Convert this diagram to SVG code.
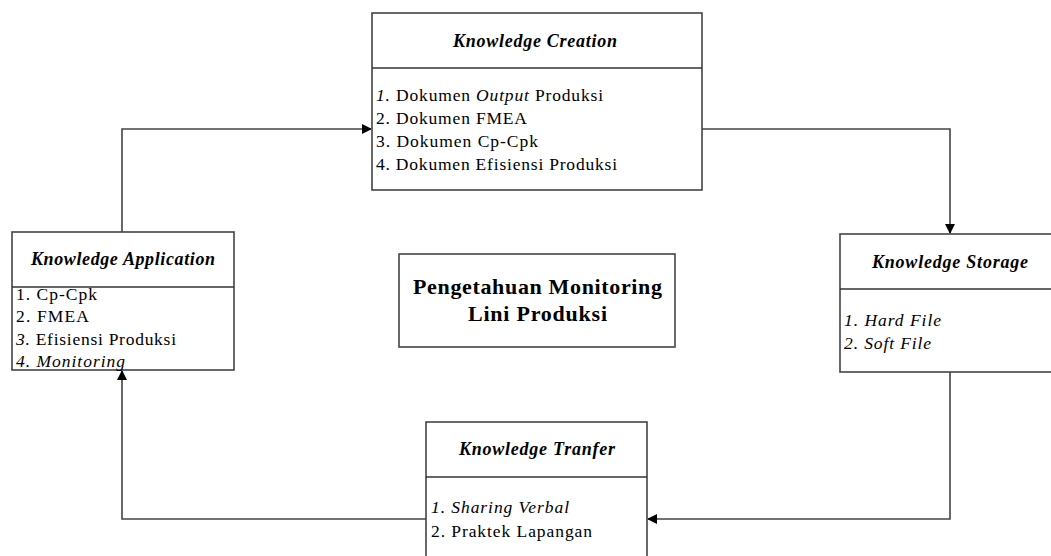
<svg xmlns="http://www.w3.org/2000/svg" width="1051" height="556" viewBox="0 0 1051 556">
<style>
.box{fill:#fff;stroke:#444;stroke-width:1.6}
.div{stroke:#333;stroke-width:1.6}
.conn{fill:none;stroke:#444;stroke-width:1.6}
text{font-family:"Liberation Serif","Times New Roman",serif;fill:#000}
.title{font-size:18px;font-style:italic;font-weight:bold}
.item{font-size:17.5px}
.it{font-style:italic}
.center{font-size:22px;font-weight:bold}
</style>
<defs>
<marker id="arr" markerWidth="10" markerHeight="10" refX="9" refY="5" orient="auto" markerUnits="userSpaceOnUse">
<path d="M0,0 L10,5 L0,10 Z" fill="#000"/>
</marker>
</defs>
<g id="connectors">
<path class="conn" d="M122,232 V129 H371" marker-end="url(#arr)"/>
<path class="conn" d="M702,129 H950 V233" marker-end="url(#arr)"/>
<path class="conn" d="M950,372 V519 H648" marker-end="url(#arr)"/>
<path class="conn" d="M426,519 H122 V371" marker-end="url(#arr)"/>
</g>
<g id="creation">
<rect class="box" x="372" y="13" width="330" height="177"/>
<line class="div" x1="372" y1="68" x2="702" y2="68"/>
<text class="title" x="453" y="47" textLength="164" lengthAdjust="spacing">Knowledge Creation</text>
<text class="item" x="376" y="101" textLength="227" lengthAdjust="spacing"><tspan class="it">1.</tspan> Dokumen <tspan class="it">Output</tspan> Produksi</text>
<text class="item" x="376" y="124" textLength="151" lengthAdjust="spacing">2. Dokumen FMEA</text>
<text class="item" x="376" y="147" textLength="162" lengthAdjust="spacing">3. Dokumen Cp-Cpk</text>
<text class="item" x="376" y="170" textLength="241" lengthAdjust="spacing">4. Dokumen Efisiensi Produksi</text>
</g>
<g id="application">
<rect class="box" x="12" y="232" width="222" height="138"/>
<line class="div" x1="12" y1="287" x2="234" y2="287"/>
<text class="title" x="31" y="265" textLength="184" lengthAdjust="spacing">Knowledge Application</text>
<text class="item" x="16" y="300" textLength="81" lengthAdjust="spacing">1. Cp-Cpk</text>
<text class="item" x="16" y="322" textLength="73" lengthAdjust="spacing">2. FMEA</text>
<text class="item" x="16" y="345" textLength="160" lengthAdjust="spacing"><tspan class="it">3.</tspan> Efisiensi Produksi</text>
<text class="item it" x="16" y="367" textLength="109" lengthAdjust="spacing">4. Monitoring</text>
</g>
<g id="storage">
<rect class="box" x="840" y="234" width="214" height="138"/>
<line class="div" x1="840" y1="289" x2="1054" y2="289"/>
<text class="title" x="872" y="268" textLength="156" lengthAdjust="spacing">Knowledge Storage</text>
<text class="item it" x="844" y="326" textLength="97" lengthAdjust="spacing">1. Hard File</text>
<text class="item it" x="844" y="349" textLength="87" lengthAdjust="spacing">2. Soft File</text>
</g>
<g id="tranfer">
<rect class="box" x="426" y="422" width="221" height="140"/>
<line class="div" x1="426" y1="477" x2="647" y2="477"/>
<text class="title" x="459" y="455" textLength="156" lengthAdjust="spacing">Knowledge Tranfer</text>
<text class="item it" x="431" y="513" textLength="138" lengthAdjust="spacing">1. Sharing Verbal</text>
<text class="item" x="431" y="537" textLength="161" lengthAdjust="spacing">2. Praktek Lapangan</text>
</g>
<g id="center">
<rect class="box" x="399" y="254" width="276" height="93"/>
<text class="center" x="413" y="294" textLength="249" lengthAdjust="spacing">Pengetahuan Monitoring</text>
<text class="center" x="468" y="321" textLength="139" lengthAdjust="spacing">Lini Produksi</text>
</g>
</svg>
